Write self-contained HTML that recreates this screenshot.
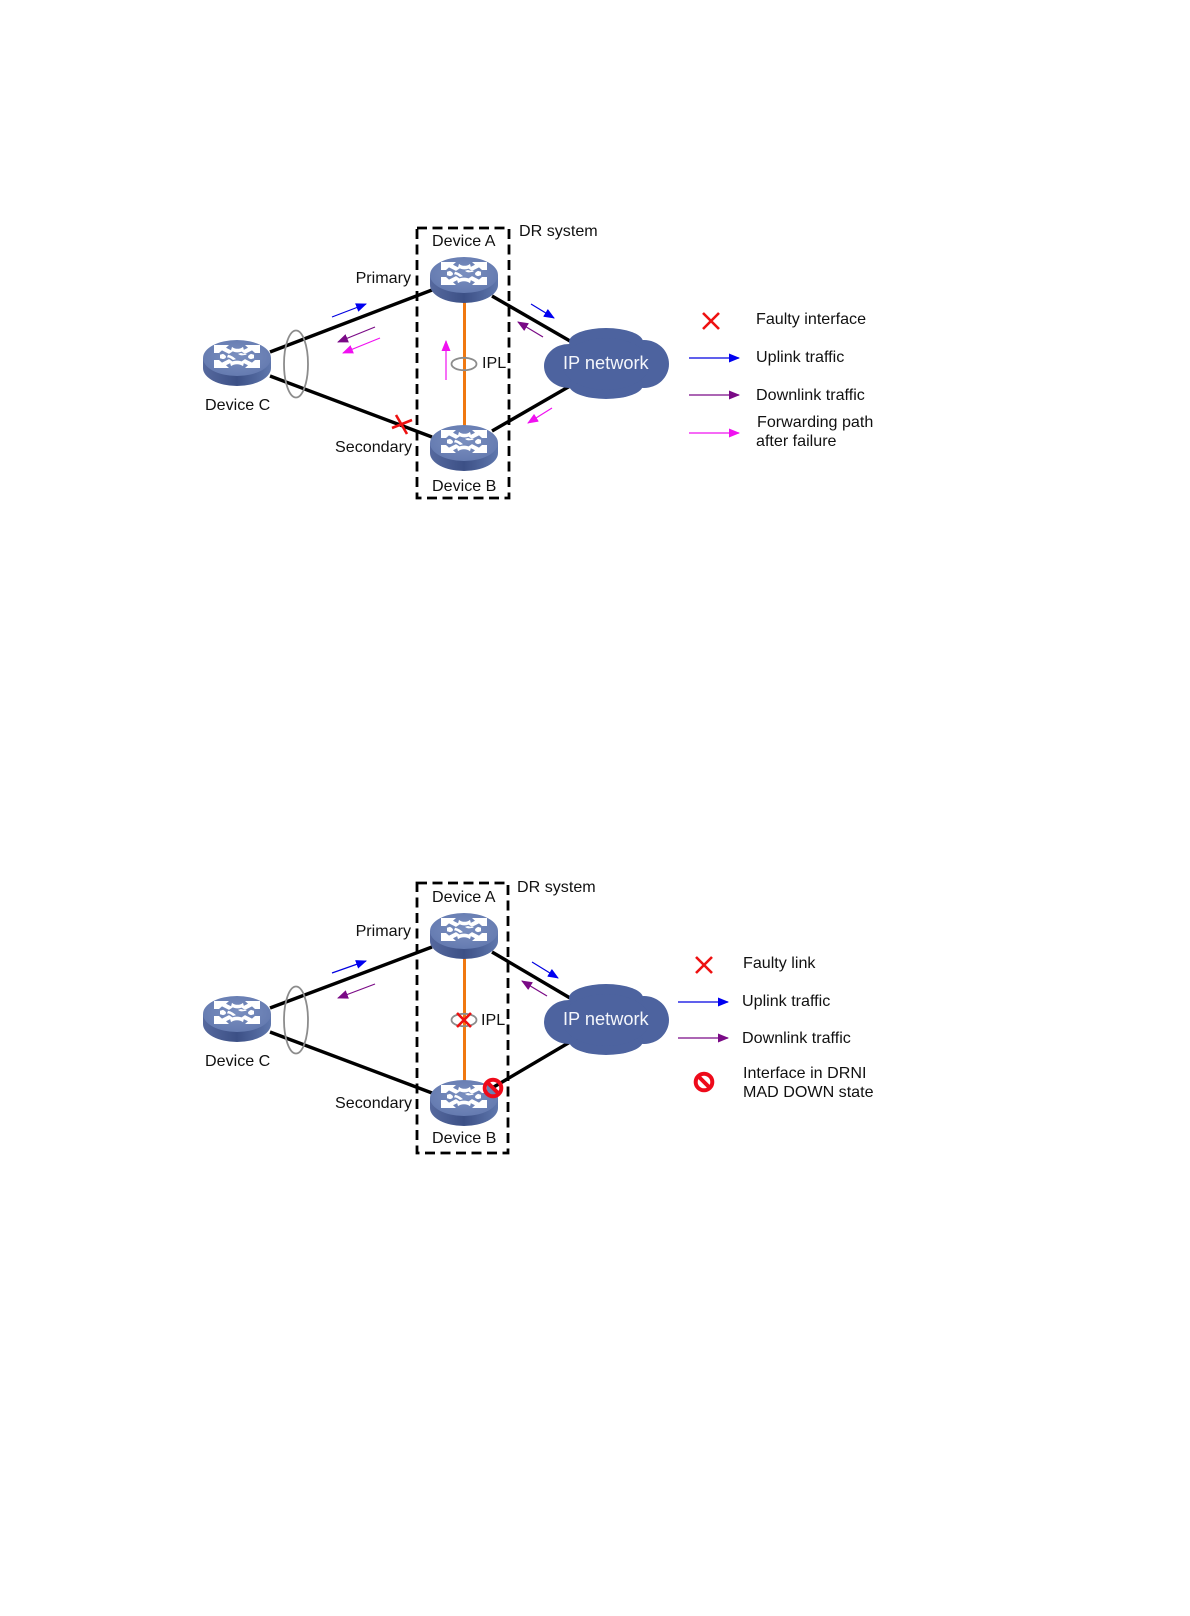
<!DOCTYPE html>
<html>
<head>
<meta charset="utf-8">
<style>
html,body{margin:0;padding:0;background:#fff;}
svg{display:block;filter:blur(0.35px);}
text{font-family:"Liberation Sans",Arial,sans-serif;font-size:16.1px;fill:#111;}
.t{text-anchor:end;}
.lnk{stroke:#000;stroke-width:3.4;fill:none;}
.ipl{stroke:#f07810;stroke-width:3;fill:none;}
.box{fill:none;stroke:#000;stroke-width:2.8;stroke-dasharray:10 5.5;}
.gr{fill:none;stroke:#8c8c8c;stroke-width:1.8;}
.x{stroke:#ee1111;stroke-width:2.6;fill:none;}
.bl{stroke:#0000e0;stroke-width:1.2;}
.pu{stroke:#7a0a86;stroke-width:1.2;}
.ma{stroke:#f010f0;stroke-width:1.2;}
.no{fill:none;stroke:#ee0a1a;stroke-width:4;}
</style>
</head>
<body>
<svg width="1190" height="1616" viewBox="0 0 1190 1616" xmlns="http://www.w3.org/2000/svg">
<defs>
<linearGradient id="side" x1="0" x2="1" y1="0" y2="0">
<stop offset="0" stop-color="#56699e"/><stop offset="0.5" stop-color="#3c5086"/><stop offset="1" stop-color="#5f77ad"/>
</linearGradient>
<radialGradient id="top" cx="0.5" cy="0.45" r="0.6">
<stop offset="0" stop-color="#7a8fbf"/><stop offset="1" stop-color="#6379af"/>
</radialGradient>
<marker id="mb" markerWidth="11" markerHeight="9" refX="10" refY="4.5" orient="auto" markerUnits="userSpaceOnUse"><path d="M0 0L11 4.5L0 9z" fill="#0000f0"/></marker>
<marker id="mp" markerWidth="11" markerHeight="9" refX="10" refY="4.5" orient="auto" markerUnits="userSpaceOnUse"><path d="M0 0L11 4.5L0 9z" fill="#7a0a86"/></marker>
<marker id="mm" markerWidth="11" markerHeight="9" refX="10" refY="4.5" orient="auto" markerUnits="userSpaceOnUse"><path d="M0 0L11 4.5L0 9z" fill="#f010f0"/></marker>
<g id="sw">
<path d="M-34 0V10A34 18 0 0 0 34 10V0z" fill="url(#side)"/>
<ellipse cx="0" cy="0" rx="34" ry="18" fill="url(#top)"/>
<g transform="translate(0,-1.5) scale(1,0.88)">
<g fill="#fff">
<path d="M-23 -13H-8L-11 -10L-4 -6L-8 -3L-15 -7L-18 -4L-23 -4z"/>
<path d="M23 -13H8L11 -10L4 -6L8 -3L15 -7L18 -4L23 -4z"/>
<path d="M-23 13H-8L-11 10L-4 6L-8 3L-15 7L-18 4L-23 4z"/>
<path d="M23 13H8L11 10L4 6L8 3L15 7L18 4L23 4z"/>
<path d="M-5 -11C-2 -8 3 -8 6 -11L7 -7C3 -4 -2 -4 -6 -7z"/>
<path d="M-6 11C-3 8 3 8 6 11L7 7C3 4 -3 4 -7 7z"/>
<path d="M-14 -3C-10 -1 -10 2 -14 3L-17 2L-17 -2z"/>
<path d="M14 -3C10 -1 10 2 14 3L17 2L17 -2z"/>
<path d="M-9 -2C-5 -1 -3 1 -1 3L-4 4C-6 2 -8 1 -10 1z"/>
<path d="M9 -2C5 -1 3 -1 1 -3L4 -4C6 -3 8 -3 10 -3z"/>
</g>
</g>
</g>
<g id="cloud" fill="#4d639f">
<ellipse cx="25" cy="38" rx="25" ry="22"/>
<ellipse cx="100" cy="36" rx="25" ry="24"/>
<ellipse cx="62" cy="14" rx="37" ry="14"/>
<ellipse cx="62" cy="57" rx="37" ry="14"/>
<ellipse cx="62" cy="36" rx="44" ry="26"/>
</g>
</defs>

<!-- Diagram 1 -->
<line class="lnk" x1="270" y1="352" x2="432" y2="290"/>
<line class="lnk" x1="270" y1="376" x2="432" y2="437"/>
<line class="lnk" x1="492" y1="296" x2="570" y2="341"/>
<line class="lnk" x1="492" y1="431" x2="570" y2="386"/>
<line class="ipl" x1="464.5" y1="300" x2="464.5" y2="426"/>
<rect class="box" x="417" y="228" width="92" height="270"/>
<use href="#sw" x="464" y="275"/>
<use href="#sw" x="464" y="443"/>
<use href="#sw" x="237" y="358"/>
<use href="#cloud" x="544" y="328"/>
<ellipse class="gr" cx="296" cy="364" rx="12" ry="33.5"/>
<ellipse class="gr" cx="464" cy="364" rx="12.5" ry="6.2"/>
<line class="bl" x1="332" y1="317" x2="366" y2="304" marker-end="url(#mb)"/>
<line class="pu" x1="375" y1="327" x2="338" y2="342" marker-end="url(#mp)"/>
<line class="ma" x1="380" y1="338" x2="343" y2="353" marker-end="url(#mm)"/>
<line class="bl" x1="531" y1="304" x2="554" y2="318" marker-end="url(#mb)"/>
<line class="pu" x1="543" y1="337" x2="518" y2="322" marker-end="url(#mp)"/>
<line class="ma" x1="446" y1="380" x2="446" y2="341" marker-end="url(#mm)"/>
<line class="ma" x1="552" y1="408" x2="528" y2="423" marker-end="url(#mm)"/>
<path class="x" d="M392 428L412 420M396 415L407 434"/>
<text x="432" y="246">Device A</text>
<text x="519" y="236">DR system</text>
<text x="411" y="283" class="t">Primary</text>
<text x="412" y="452" class="t">Secondary</text>
<text x="432" y="491">Device B</text>
<text x="205" y="410">Device C</text>
<text x="482" y="368">IPL</text>
<text x="563" y="369" style="font-size:18.2px;fill:#f4f6fb">IP network</text>

<!-- Legend 1 -->
<path class="x" d="M703 313L719 329M719 313L703 329"/>
<text x="756" y="324">Faulty interface</text>
<line class="bl" x1="689" y1="358" x2="739" y2="358" marker-end="url(#mb)"/>
<text x="756" y="362">Uplink traffic</text>
<line class="pu" x1="689" y1="395" x2="739" y2="395" marker-end="url(#mp)"/>
<text x="756" y="400">Downlink traffic</text>
<line class="ma" x1="689" y1="433" x2="739" y2="433" marker-end="url(#mm)"/>
<text x="757" y="427">Forwarding path</text>
<text x="756" y="446">after failure</text>

<!-- Diagram 2 -->
<line class="lnk" x1="270" y1="1008" x2="432" y2="947"/>
<line class="lnk" x1="270" y1="1032" x2="432" y2="1093"/>
<line class="lnk" x1="492" y1="952" x2="570" y2="998"/>
<line class="lnk" x1="492" y1="1088" x2="570" y2="1042"/>
<line class="ipl" x1="464.5" y1="956" x2="464.5" y2="1084"/>
<rect class="box" x="417" y="883" width="91" height="270"/>
<use href="#sw" x="464" y="931"/>
<use href="#sw" x="464" y="1098"/>
<use href="#sw" x="237" y="1014"/>
<use href="#cloud" x="544" y="984"/>
<ellipse class="gr" cx="296" cy="1020" rx="12" ry="33.5"/>
<ellipse class="gr" cx="464" cy="1020" rx="12.5" ry="6.2"/>
<path class="x" d="M457 1013L471 1027M471 1013L457 1027"/>
<line class="bl" x1="332" y1="973" x2="366" y2="961" marker-end="url(#mb)"/>
<line class="pu" x1="375" y1="984" x2="338" y2="998" marker-end="url(#mp)"/>
<line class="bl" x1="532" y1="962" x2="558" y2="978" marker-end="url(#mb)"/>
<line class="pu" x1="547" y1="996" x2="522" y2="981" marker-end="url(#mp)"/>
<circle class="no" cx="493" cy="1088" r="8.3"/>
<line class="no" x1="487" y1="1082" x2="499" y2="1094"/>
<text x="432" y="902">Device A</text>
<text x="517" y="892">DR system</text>
<text x="411" y="936" class="t">Primary</text>
<text x="412" y="1108" class="t">Secondary</text>
<text x="432" y="1143">Device B</text>
<text x="205" y="1066">Device C</text>
<text x="481" y="1025">IPL</text>
<text x="563" y="1025" style="font-size:18.2px;fill:#f4f6fb">IP network</text>

<!-- Legend 2 -->
<path class="x" d="M696 957L712 973M712 957L696 973"/>
<text x="743" y="968">Faulty link</text>
<line class="bl" x1="678" y1="1002" x2="728" y2="1002" marker-end="url(#mb)"/>
<text x="742" y="1006">Uplink traffic</text>
<line class="pu" x1="678" y1="1038" x2="728" y2="1038" marker-end="url(#mp)"/>
<text x="742" y="1043">Downlink traffic</text>
<circle class="no" cx="704" cy="1082" r="8.3"/>
<line class="no" x1="698" y1="1076" x2="710" y2="1088"/>
<text x="743" y="1078">Interface in DRNI</text>
<text x="743" y="1097">MAD DOWN state</text>
</svg>
</body>
</html>
